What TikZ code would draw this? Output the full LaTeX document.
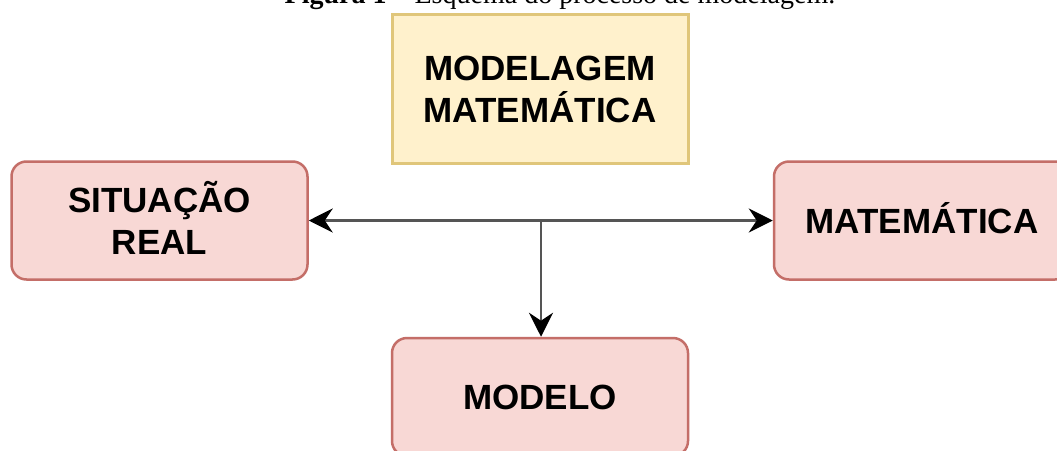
\documentclass[tikz,border=0pt]{standalone}
\usepackage{fontspec}
\setmainfont{Liberation Serif}
\newfontfamily\boxfont{Liberation Sans}
\usetikzlibrary{arrows.meta}
\definecolor{pinkfill}{HTML}{F8D8D5}
\definecolor{pinkline}{HTML}{C46E68}
\definecolor{yelfill}{HTML}{FFF1CC}
\definecolor{yelline}{HTML}{E0C67A}
\definecolor{connline}{HTML}{555555}
\begin{document}
\begin{tikzpicture}[x=1pt,y=-1pt,
  lbl/.style={font=\boxfont\bfseries\fontsize{35}{42}\selectfont, align=center, text=black, inner sep=0pt},
  oneline/.style={text height=25pt, text depth=0pt},
  twoline/.style={text height=67pt, text depth=0pt},
  redbox/.style={lbl, draw=pinkline, fill=pinkfill, line width=2.5pt, rounded corners=15pt, minimum width=296pt, minimum height=118pt},
  yelbox/.style={lbl, draw=yelline, fill=yelfill, line width=3pt, minimum width=296pt, minimum height=149pt},
  tip/.tip={Stealth[length=24pt,width=24pt,inset=8pt,color=black]},
  conn/.style={draw=connline, line width=2.8pt}
]
\useasboundingbox (0,0) rectangle (1057,450);
\clip (0,0) rectangle (1057,450);
\fill[white] (0,0) rectangle (1057,450);
\node (cap) [font=\fontsize{28}{34}\selectfont, anchor=base] at (560,3.5) {\textbf{Figura 1} – Esquema do processo de modelagem.};
\node (mm) [yelbox, twoline] at (540,88.5) {MODELAGEM\\MATEMÁTICA};
\node (sit) [redbox, twoline] at (159.5,220.5) {SITUAÇÃO\\REAL};
\node (mat) [redbox, oneline] at (922,220.5) {MATEMÁTICA};
\node (mod) [redbox, oneline] at (540,397) {MODELO};
\coordinate (j) at ([xshift=1pt]mod.north |- sit.east);
\draw[conn, tip-tip] (sit.east) -- (mat.west);
\draw[conn, -tip] (j) -- ([xshift=1pt]mod.north);
\end{tikzpicture}
\end{document}
